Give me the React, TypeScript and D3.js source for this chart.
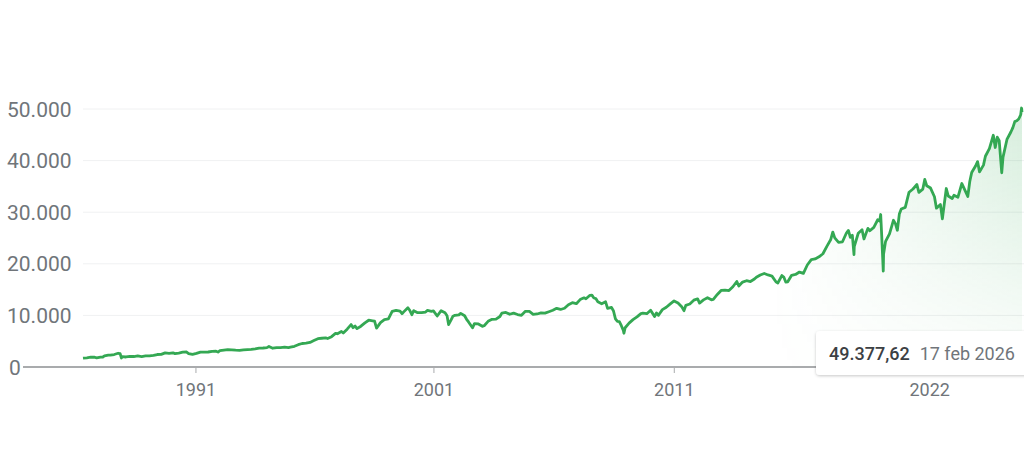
import { useRef, useEffect } from 'react';
import * as d3 from 'd3';

const WIDTH = 1024;
const HEIGHT = 449;
const PLOT = { left: 83, right: 1022, top: 109, bottom: 367 };

// month-end closes (YYYY-MM) plus a few intraday/event dates (YYYY-MM-DD)
const dowCloses: [string, number][] = [
  ['1986-02', 1710], ['1986-04', 1784], ['1986-06', 1893], ['1986-08', 1898], ['1986-09', 1768], ['1986-11', 1914], ['1986-12', 1896],
  ['1987-01', 2158], ['1987-03', 2305], ['1987-04', 2286], ['1987-06', 2418], ['1987-08', 2663], ['1987-09', 2596], ['1987-10-19', 1739], ['1987-10', 1994], ['1987-12', 1939],
  ['1988-02', 2072], ['1988-04', 2032], ['1988-06', 2142], ['1988-08', 2032], ['1988-10', 2149], ['1988-12', 2169],
  ['1989-02', 2259], ['1989-04', 2419], ['1989-06', 2440], ['1989-08', 2737], ['1989-10', 2645], ['1989-12', 2753],
  ['1990-01', 2591], ['1990-03', 2707], ['1990-05', 2877], ['1990-07', 2905], ['1990-08', 2614], ['1990-10', 2442], ['1990-12', 2634],
  ['1991-02', 2882], ['1991-04', 2888], ['1991-06', 2907], ['1991-08', 3044], ['1991-10', 3069], ['1991-11', 2895], ['1991-12', 3169],
  ['1992-02', 3267], ['1992-04', 3359], ['1992-06', 3319], ['1992-08', 3257], ['1992-10', 3226], ['1992-12', 3301],
  ['1993-02', 3370], ['1993-04', 3428], ['1993-06', 3516], ['1993-08', 3651], ['1993-10', 3681], ['1993-12', 3754],
  ['1994-01', 3978], ['1994-03', 3636], ['1994-05', 3758], ['1994-07', 3765], ['1994-09', 3843], ['1994-11', 3739], ['1994-12', 3834],
  ['1995-02', 4011], ['1995-04', 4321], ['1995-06', 4556], ['1995-08', 4611], ['1995-10', 4756], ['1995-12', 5117],
  ['1996-02', 5485], ['1996-04', 5569], ['1996-06', 5654], ['1996-07', 5528], ['1996-09', 5882], ['1996-11', 6522], ['1996-12', 6448],
  ['1997-02', 6877], ['1997-03', 6583], ['1997-05', 7331], ['1997-07', 8222], ['1997-08', 7622], ['1997-09', 7945], ['1997-10', 7442], ['1997-12', 7908],
  ['1998-02', 8546], ['1998-04', 9063], ['1998-06', 8952], ['1998-07', 8883], ['1998-08', 7539], ['1998-10', 8592], ['1998-12', 9181],
  ['1999-02', 9307], ['1999-04', 10789], ['1999-06', 10971], ['1999-08', 10829], ['1999-09', 10337], ['1999-10', 10729], ['1999-12', 11497],
  ['2000-01', 10941], ['2000-02', 10128], ['2000-03', 10922], ['2000-05', 10522], ['2000-07', 10522], ['2000-09', 10651], ['2000-10', 10971], ['2000-12', 10787],
  ['2001-01', 10887], ['2001-03', 9879], ['2001-05', 10912], ['2001-07', 10523], ['2001-08', 9950], ['2001-09-21', 8236], ['2001-10', 9075], ['2001-11', 9852], ['2001-12', 10021],
  ['2002-02', 10106], ['2002-03', 10404], ['2002-05', 9925], ['2002-06', 9243], ['2002-07', 8737], ['2002-09', 7592], ['2002-10', 8397], ['2002-12', 8342],
  ['2003-02', 7891], ['2003-03', 7992], ['2003-05', 8850], ['2003-07', 9233], ['2003-09', 9275], ['2003-11', 9782], ['2003-12', 10453],
  ['2004-02', 10583], ['2004-04', 10226], ['2004-06', 10435], ['2004-08', 10174], ['2004-10', 10027], ['2004-12', 10783],
  ['2005-02', 10766], ['2005-04', 10193], ['2005-06', 10275], ['2005-08', 10481], ['2005-10', 10440], ['2005-12', 10718],
  ['2006-02', 10993], ['2006-04', 11367], ['2006-06', 11150], ['2006-08', 11381], ['2006-10', 12081], ['2006-12', 12463],
  ['2007-02', 12268], ['2007-04', 13062], ['2007-06', 13408], ['2007-07', 13212], ['2007-09', 13896], ['2007-10', 13930], ['2007-11', 13372], ['2007-12', 13265],
  ['2008-01', 12650], ['2008-03', 12263], ['2008-05', 12638], ['2008-06', 11350], ['2008-08', 11543], ['2008-09', 10851], ['2008-10', 9325], ['2008-11', 8829], ['2008-12', 8776],
  ['2009-01', 8001], ['2009-02', 7063], ['2009-03-09', 6547], ['2009-03', 7609], ['2009-05', 8500], ['2009-07', 9172], ['2009-09', 9712], ['2009-11', 10345], ['2009-12', 10428],
  ['2010-02', 10325], ['2010-04', 11009], ['2010-06', 9774], ['2010-07', 10466], ['2010-08', 10015], ['2010-10', 11118], ['2010-12', 11578],
  ['2011-02', 12226], ['2011-04', 12811], ['2011-06', 12414], ['2011-08', 11614], ['2011-09', 10913], ['2011-10', 11955], ['2011-12', 12218],
  ['2012-02', 12952], ['2012-04', 13214], ['2012-05', 12393], ['2012-07', 13009], ['2012-09', 13437], ['2012-11', 13026], ['2012-12', 13104],
  ['2013-02', 14054], ['2013-04', 14840], ['2013-06', 14910], ['2013-08', 14810], ['2013-10', 15546], ['2013-12', 16577],
  ['2014-01', 15699], ['2014-03', 16458], ['2014-05', 16717], ['2014-07', 16563], ['2014-09', 17043], ['2014-10', 17391], ['2014-12', 17823],
  ['2015-02', 18133], ['2015-04', 17841], ['2015-06', 17620], ['2015-08', 16528], ['2015-09', 16285], ['2015-11', 17720], ['2015-12', 17425],
  ['2016-01', 16466], ['2016-02', 16517], ['2016-04', 17774], ['2016-06', 17930], ['2016-08', 18401], ['2016-10', 18142], ['2016-12', 19763],
  ['2017-02', 20812], ['2017-04', 20941], ['2017-06', 21350], ['2017-08', 21948], ['2017-10', 23377], ['2017-12', 24719],
  ['2018-01', 26149], ['2018-02', 25029], ['2018-04', 24163], ['2018-06', 24271], ['2018-08', 25965], ['2018-09', 26458], ['2018-10', 25116], ['2018-11', 25538], ['2018-12-24', 21792], ['2018-12', 23327],
  ['2019-02', 25916], ['2019-04', 26593], ['2019-05', 24815], ['2019-07', 26864], ['2019-08', 26403], ['2019-10', 27046], ['2019-12', 28538],
  ['2020-01', 28256], ['2020-02-12', 29551], ['2020-02', 25409], ['2020-03-23', 18592], ['2020-03', 21917], ['2020-04', 24346], ['2020-06', 25813], ['2020-08', 28430], ['2020-09', 27782], ['2020-10', 26502], ['2020-11', 29639], ['2020-12', 30606],
  ['2021-02', 30932], ['2021-04', 33875], ['2021-06', 34503], ['2021-08', 35361], ['2021-09', 33844], ['2021-11', 34484], ['2021-12', 36338],
  ['2022-01', 35132], ['2022-03', 34678], ['2022-05', 32990], ['2022-06', 30775], ['2022-08', 31510], ['2022-09', 28726], ['2022-11', 34590], ['2022-12', 33147],
  ['2023-02', 32657], ['2023-03', 33274], ['2023-05', 32908], ['2023-07', 35560], ['2023-08', 34722], ['2023-10', 33053], ['2023-11', 35951], ['2023-12', 37690],
  ['2024-02', 38996], ['2024-03', 39807], ['2024-04', 37816], ['2024-06', 39119], ['2024-07', 40843], ['2024-09', 42330], ['2024-11', 44911], ['2024-12', 42544],
  ['2025-01', 44544], ['2025-02', 43841], ['2025-04-08', 37645], ['2025-04', 40669], ['2025-06', 44095], ['2025-08', 45545], ['2025-09', 46398], ['2025-10', 47563], ['2025-11', 47716], ['2025-12', 48063],
  ['2026-01', 48892], ['2026-02-10', 50188], ['2026-02-17', 49377.62],
];

const yTicks = [0, 10000, 20000, 30000, 40000, 50000];
// tick dates as placed on the reference axis
const xTicks: [string, string][] = [
  ['1990-12-20', '1991'],
  ['2001-02-05', '2001'],
  ['2011-05-01', '2011'],
  ['2022-03-15', '2022'],
];

const GREEN = '#34a853';
const TEXT_GRAY = '#70757a';
const FONT = 'Roboto, Arial, sans-serif';

const parseDay = d3.timeParse('%Y-%m-%d');
const toDate = (s: string) => parseDay(s.length === 7 ? `${s}-28` : s)!;

const itNumber = d3.formatLocale({ decimal: ',', thousands: '.', grouping: [3], currency: ['€', ''] });
const itTime = d3.timeFormatLocale({
  dateTime: '%A %e %B %Y, %X', date: '%d/%m/%Y', time: '%H:%M:%S', periods: ['AM', 'PM'],
  days: ['domenica', 'lunedì', 'martedì', 'mercoledì', 'giovedì', 'venerdì', 'sabato'],
  shortDays: ['dom', 'lun', 'mar', 'mer', 'gio', 'ven', 'sab'],
  months: ['gennaio', 'febbraio', 'marzo', 'aprile', 'maggio', 'giugno', 'luglio', 'agosto', 'settembre', 'ottobre', 'novembre', 'dicembre'],
  shortMonths: ['gen', 'feb', 'mar', 'apr', 'mag', 'giu', 'lug', 'ago', 'set', 'ott', 'nov', 'dic'],
});

interface Pt { date: Date; value: number; }

export default function App() {
  const svgRef = useRef<SVGSVGElement>(null);

  useEffect(() => {
    const svg = svgRef.current;
    if (!svg) return;
    document.body.style.margin = '0';

    const data: Pt[] = dowCloses.map(([d, v]) => ({ date: toDate(d), value: v }));
    const first = data[0].date;
    const last = data[data.length - 1];

    const x = d3.scaleTime().domain([first, last.date]).range([PLOT.left, PLOT.right]);
    const y = d3.scaleLinear().domain([0, 50000]).range([PLOT.bottom, PLOT.top]);

    const root = d3.select(svg);
    root.selectAll('*').remove();

    const defs = root.append('defs');
    const hg = defs.append('linearGradient').attr('id', 'areaFill').attr('gradientUnits', 'userSpaceOnUse')
      .attr('x1', 770).attr('x2', WIDTH).attr('y1', 0).attr('y2', 0);
    hg.append('stop').attr('offset', 0).attr('stop-color', GREEN).attr('stop-opacity', 0);
    hg.append('stop').attr('offset', 1).attr('stop-color', GREEN).attr('stop-opacity', 0.2);
    const vg = defs.append('linearGradient').attr('id', 'areaFade').attr('gradientUnits', 'userSpaceOnUse')
      .attr('x1', 0).attr('x2', 0).attr('y1', PLOT.top).attr('y2', PLOT.bottom);
    vg.append('stop').attr('offset', 0).attr('stop-color', '#fff');
    vg.append('stop').attr('offset', 1).attr('stop-color', '#fff').attr('stop-opacity', 0.1);
    defs.append('mask').attr('id', 'areaMask').attr('maskUnits', 'userSpaceOnUse')
      .append('rect').attr('x', 0).attr('y', 0).attr('width', WIDTH).attr('height', HEIGHT).attr('fill', 'url(#areaFade)');

    // grid
    yTicks.filter(t => t > 0).forEach(t => {
      root.append('line').attr('x1', PLOT.left).attr('x2', WIDTH)
        .attr('y1', y(t)).attr('y2', y(t)).attr('stroke', '#f0f1f2').attr('stroke-width', 1);
    });

    // y labels
    const fmtY = itNumber.format(',.0f');
    yTicks.forEach(t => {
      root.append('text').attr('x', t === 0 ? 9 : 7).attr('y', y(t)).attr('dy', '0.36em')
        .attr('fill', TEXT_GRAY).attr('font-family', FONT).attr('font-size', '21px').text(fmtY(t));
    });

    // area + line
    const area = d3.area<Pt>().x(d => x(d.date)).y0(y(0)).y1(d => y(d.value));
    root.append('path').datum(data).attr('d', area).attr('fill', 'url(#areaFill)').attr('mask', 'url(#areaMask)');
    const line = d3.line<Pt>().x(d => x(d.date)).y(d => y(d.value));
    root.append('path').datum(data).attr('d', line).attr('fill', 'none')
      .attr('stroke', GREEN).attr('stroke-width', 2.8).attr('stroke-linejoin', 'round');

    // x axis baseline + ticks
    root.append('line').attr('x1', 23).attr('x2', WIDTH).attr('y1', y(0)).attr('y2', y(0))
      .attr('stroke', '#a9abad').attr('stroke-width', 2);
    xTicks.forEach(([d, label]) => {
      const px = x(toDate(d));
      root.append('line').attr('x1', px).attr('x2', px).attr('y1', y(0) + 1).attr('y2', y(0) + 6)
        .attr('stroke', '#a9abad').attr('stroke-width', 1);
      root.append('text').attr('x', px).attr('y', y(0) + 23).attr('dy', '0.36em').attr('text-anchor', 'middle')
        .attr('fill', TEXT_GRAY).attr('font-family', FONT).attr('font-size', '18px').text(label);
    });

    // tooltip
    const tip = root.append('g').attr('transform', 'translate(816,331)');
    defs.append('filter').attr('id', 'tipShadow').attr('x', '-20%').attr('y', '-40%').attr('width', '140%').attr('height', '180%')
      .append('feDropShadow').attr('dx', 0).attr('dy', 1).attr('stdDeviation', 1.6).attr('flood-color', '#000').attr('flood-opacity', 0.22);
    tip.append('rect').attr('x', 0).attr('y', 0).attr('width', 220).attr('height', 44).attr('rx', 4)
      .attr('fill', '#fff').attr('filter', 'url(#tipShadow)');
    const tipText = tip.append('text').attr('x', 13).attr('y', 29).attr('font-family', FONT).attr('font-size', '18px');
    tipText.append('tspan').attr('fill', '#3c4043').attr('font-weight', 500).text(itNumber.format(',.2f')(last.value));
    tipText.append('tspan').attr('dx', 10).attr('fill', TEXT_GRAY).text(itTime.format('%-d %b %Y')(last.date));
  }, []);

  return (
    <svg ref={svgRef} width={WIDTH} height={HEIGHT}
      style={{ display: 'block', position: 'absolute', left: 0, top: 0, background: '#fff' }} />
  );
}
